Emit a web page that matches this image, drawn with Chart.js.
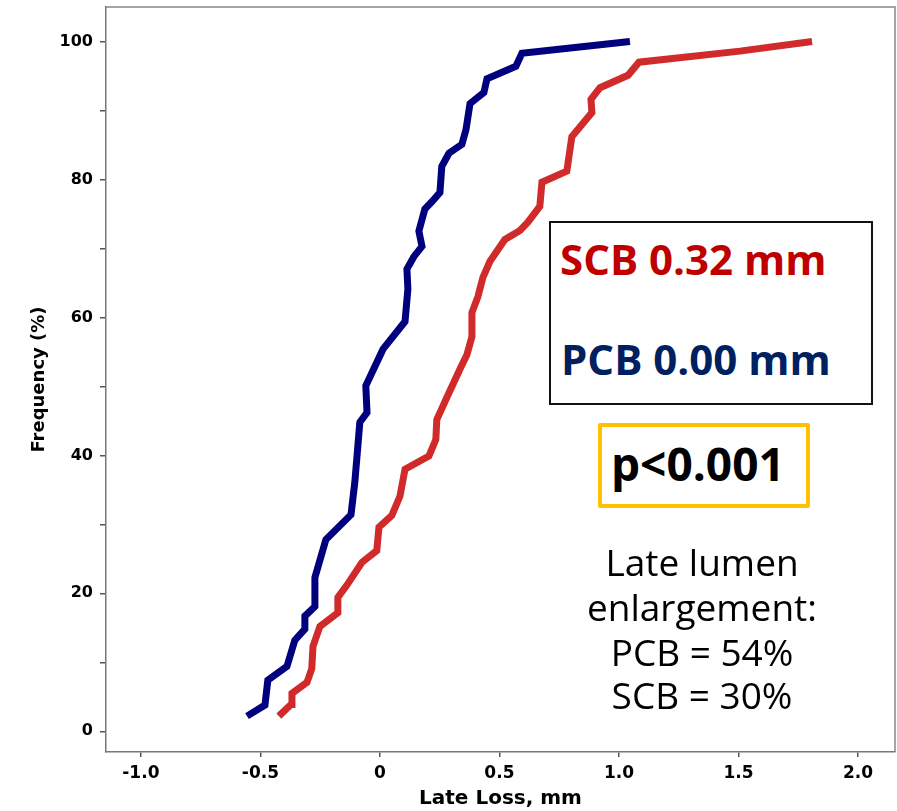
<!DOCTYPE html>
<html>
<head>
<meta charset="utf-8">
<title>Late Loss cumulative frequency</title>
<script src="https://cdn.jsdelivr.net/npm/chart.js@4/dist/chart.umd.min.js"></script>
<style>
  body { margin: 0; background: #fff; }
  #wrap { position: relative; width: 897px; height: 811px; }
  #chart { position: absolute; left: 0; top: 0; }
  .note { position: absolute; white-space: nowrap; font-family: "Open Sans", sans-serif; }
  .box { position: absolute; box-sizing: border-box; background: #fff; }
</style>
</head>
<body>
<div id="wrap">
  <canvas id="chart" width="897" height="811"></canvas>

  <div class="box" style="left:549px; top:221px; width:324px; height:184px; border:2px solid #111;"></div>
  <div class="note" style="left:560px; top:238px; font-size:42px; line-height:42px; font-weight:700; color:#C00000;">SCB 0.32 mm</div>
  <div class="note" style="left:561px; top:338px; font-size:42px; line-height:42px; font-weight:700; color:#002060;">PCB 0.00 mm</div>

  <div class="box" style="left:598px; top:423px; width:212px; height:85px; border:4px solid #FFC000; border-radius:2px;"></div>
  <div class="note" style="left:611px; top:440px; font-size:46px; line-height:46px; font-weight:700; color:#000;">p&lt;0.001</div>

  <div class="note" style="left:552px; width:300px; text-align:center; top:543px; font-size:37px; line-height:37px; color:#000;">Late lumen</div>
  <div class="note" style="left:552px; width:300px; text-align:center; top:588px; font-size:37px; line-height:37px; color:#000;">enlargement:</div>
  <div class="note" style="left:552px; width:300px; text-align:center; top:633px; font-size:37px; line-height:37px; color:#000;">PCB = 54%</div>
  <div class="note" style="left:552px; width:300px; text-align:center; top:676px; font-size:37px; line-height:37px; color:#000;">SCB = 30%</div>
</div>

<script>
  'use strict';

  // PCB (blue) cumulative curve: late loss (mm) vs frequency (%)
  const pcbLoss = [-0.556, -0.481, -0.469, -0.389, -0.356, -0.314, -0.314, -0.272, -0.272, -0.226,
    -0.121, -0.105, -0.084, -0.054, -0.059, 0.013, 0.105, 0.117, 0.113, 0.142,
    0.176, 0.163, 0.188, 0.218, 0.251, 0.259, 0.289, 0.343, 0.360, 0.377,
    0.435, 0.448, 0.569, 0.594, 1.046];
  const pcbFreq = [2.2, 3.8, 7.4, 9.4, 13.2, 14.8, 16.7, 18.1, 22.3, 27.8,
    31.4, 36.1, 44.8, 46.2, 50.1, 55.4, 59.4, 64.1, 67.0, 68.8,
    70.3, 72.5, 75.7, 76.8, 78.1, 81.9, 83.8, 85.1, 87.2, 91.0,
    92.6, 94.6, 96.4, 98.3, 100];

  // SCB (red) cumulative curve
  const scbLoss = [-0.423, -0.372, -0.368, -0.305, -0.285, -0.280, -0.251, -0.176, -0.176, -0.138,
    -0.075, -0.013, -0.004, 0.050, 0.084, 0.105, 0.205, 0.234, 0.238, 0.280,
    0.339, 0.364, 0.385, 0.385, 0.410, 0.431, 0.460, 0.523, 0.586, 0.619,
    0.669, 0.678, 0.782, 0.803, 0.887, 0.883, 0.921, 1.038, 1.084, 1.506, 1.808];
  const scbFreq = [2.2, 3.9, 5.5, 7.1, 9.1, 12.3, 15.2, 17.2, 19.4, 21.2,
    24.5, 26.2, 29.6, 31.3, 34.1, 38.0, 39.9, 42.3, 45.2, 48.4,
    52.8, 54.6, 57.2, 60.7, 63.0, 65.8, 68.1, 71.3, 72.6, 73.8,
    76.1, 79.6, 81.2, 86.2, 89.7, 91.6, 93.3, 95.1, 97.0, 98.6, 100];

  // Axis ticks
  const xTicks = [-1.0, -0.5, 0, 0.5, 1.0, 1.5, 2.0];
  const yTicks = [0, 10, 20, 30, 40, 50, 60, 70, 80, 90, 100];
  const yLabelled = [0, 20, 40, 60, 80, 100];

  function toPoints(xs, ys) {
    return xs.map((x, i) => ({ x: x, y: ys[i] }));
  }

  // top and right edges of the plot frame
  const frame = {
    id: 'frame',
    afterDraw(chart) {
      const { ctx, chartArea: a } = chart;
      ctx.save();
      ctx.strokeStyle = '#888';
      ctx.lineWidth = 1.5;
      ctx.beginPath();
      ctx.moveTo(a.left, a.top);
      ctx.lineTo(a.right, a.top);
      ctx.lineTo(a.right, a.bottom);
      ctx.stroke();
      ctx.restore();
    }
  };

  const tickFont = { family: '"DejaVu Sans", sans-serif', weight: 'bold' };

  new Chart(document.getElementById('chart'), {
    type: 'line',
    data: {
      datasets: [
        {
          label: 'PCB',
          data: toPoints(pcbLoss, pcbFreq),
          borderColor: '#00007F',
          borderWidth: 7,
          borderJoinStyle: 'miter',
          borderCapStyle: 'butt',
          pointRadius: 0,
          tension: 0,
          fill: false
        },
        {
          label: 'SCB',
          data: toPoints(scbLoss, scbFreq),
          borderColor: '#D12A2A',
          borderWidth: 7,
          borderJoinStyle: 'miter',
          borderCapStyle: 'butt',
          pointRadius: 0,
          tension: 0,
          fill: false
        }
      ]
    },
    options: {
      responsive: false,
      animation: false,
      devicePixelRatio: 1,
      layout: { padding: { top: 7, right: 2, left: 0, bottom: 0 } },
      plugins: {
        legend: { display: false },
        tooltip: { enabled: false }
      },
      scales: {
        x: {
          type: 'linear',
          min: -1.146,
          max: 2.155,
          afterBuildTicks: axis => { axis.ticks = xTicks.map(v => ({ value: v })); },
          afterFit: axis => { axis.height = 59; },
          grid: { drawOnChartArea: false, drawTicks: true, tickLength: 5, color: '#555', lineWidth: 1.5 },
          border: { display: true, color: '#777', width: 1.5 },
          ticks: {
            color: '#000',
            padding: 6,
            maxRotation: 0,
            font: Object.assign({ size: 17 }, tickFont),
            callback: v => (v === 0 ? '0' : v.toFixed(1))
          },
          title: {
            display: true,
            text: 'Late Loss, mm',
            color: '#000',
            font: Object.assign({ size: 20 }, tickFont),
            padding: { top: 0, bottom: 0 }
          }
        },
        y: {
          type: 'linear',
          min: -3,
          max: 105,
          afterBuildTicks: axis => { axis.ticks = yTicks.map(v => ({ value: v })); },
          afterFit: axis => {
            axis.width = 106;
            // tick labels sit well inside the range, no extra room needed
            axis.paddingTop = 0;
            axis.paddingBottom = 0;
          },
          grid: { drawOnChartArea: false, drawTicks: true, tickLength: 6, color: '#555', lineWidth: 1.5 },
          border: { display: true, color: '#777', width: 1.5 },
          ticks: {
            color: '#000',
            padding: 7,
            font: Object.assign({ size: 16 }, tickFont),
            callback: v => (yLabelled.includes(v) ? String(v) : '')
          },
          title: {
            display: true,
            text: 'Frequency (%)',
            color: '#000',
            font: Object.assign({ size: 18 }, tickFont),
            padding: { top: 29, bottom: 0 }
          }
        }
      }
    },
    plugins: [frame]
  });
</script>
</body>
</html>
